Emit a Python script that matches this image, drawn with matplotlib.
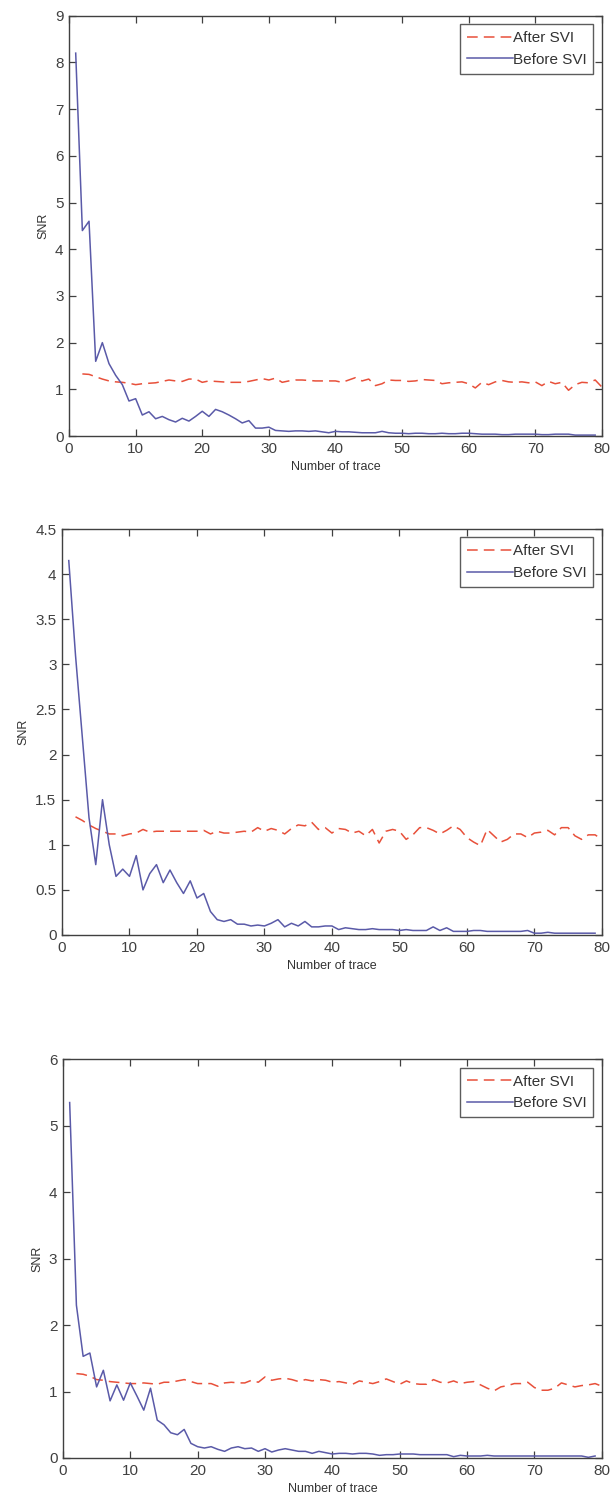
import numpy as np
import matplotlib
matplotlib.use('Agg')
import matplotlib.pyplot as plt

plt.rcParams['font.family'] = ['Liberation Sans', 'DejaVu Sans']

# panel 1
before1 = [8.2, 4.4, 4.6, 1.6, 2.0, 1.55, 1.3, 1.1, 0.75, 0.8,
           0.45, 0.52, 0.37, 0.42, 0.35, 0.3, 0.38, 0.32, 0.42, 0.53,
           0.42, 0.57, 0.52, 0.45, 0.37, 0.28, 0.33, 0.17, 0.17, 0.19,
           0.12, 0.11, 0.1, 0.11, 0.11, 0.1, 0.11, 0.09, 0.07, 0.1,
           0.09, 0.09, 0.08, 0.07, 0.07, 0.07, 0.1, 0.07, 0.06, 0.06,
           0.05, 0.06, 0.06, 0.05, 0.05, 0.06, 0.05, 0.05, 0.06, 0.06,
           0.05, 0.04, 0.04, 0.04, 0.03, 0.03, 0.04, 0.04, 0.04, 0.04,
           0.03, 0.03, 0.04, 0.04, 0.04, 0.02, 0.02, 0.02, 0.02]
after1 = [1.33, 1.32, 1.27, 1.22, 1.18, 1.16, 1.15, 1.13, 1.10, 1.12,
          1.13, 1.14, 1.17, 1.20, 1.18, 1.17, 1.22, 1.22, 1.15, 1.18,
          1.17, 1.16, 1.15, 1.15, 1.15, 1.17, 1.20, 1.23, 1.20, 1.24,
          1.15, 1.18, 1.20, 1.20, 1.19, 1.18, 1.18, 1.18, 1.18, 1.15,
          1.20, 1.25, 1.18, 1.22, 1.08, 1.12, 1.20, 1.19, 1.19, 1.17,
          1.18, 1.21, 1.20, 1.19, 1.12, 1.14, 1.15, 1.16, 1.12, 1.03,
          1.15, 1.10, 1.16, 1.19, 1.16, 1.15, 1.16, 1.14, 1.16, 1.08,
          1.17, 1.12, 1.15, 0.98, 1.10, 1.15, 1.14, 1.20, 1.05]

# panel 2
before2 = [4.15, 3.1, 2.2, 1.3, 0.78, 1.5, 1.0, 0.65, 0.73, 0.65,
           0.88, 0.5, 0.68, 0.78, 0.58, 0.72, 0.58, 0.46, 0.6, 0.41,
           0.46, 0.26, 0.17, 0.15, 0.17, 0.12, 0.12, 0.1, 0.11, 0.1,
           0.13, 0.17, 0.09, 0.13, 0.1, 0.15, 0.09, 0.09, 0.1, 0.1,
           0.06, 0.08, 0.07, 0.06, 0.06, 0.07, 0.06, 0.06, 0.06, 0.05,
           0.06, 0.05, 0.05, 0.05, 0.09, 0.05, 0.08, 0.04, 0.04, 0.04,
           0.05, 0.05, 0.04, 0.04, 0.04, 0.04, 0.04, 0.04, 0.05, 0.02,
           0.02, 0.03, 0.02, 0.02, 0.02, 0.02, 0.02, 0.02, 0.02]
after2 = [1.31, 1.27, 1.22, 1.18, 1.15, 1.12, 1.12, 1.10, 1.12, 1.13,
          1.17, 1.14, 1.15, 1.15, 1.15, 1.15, 1.15, 1.15, 1.15, 1.16,
          1.12, 1.15, 1.13, 1.13, 1.14, 1.15, 1.14, 1.19, 1.15, 1.18,
          1.16, 1.12, 1.18, 1.22, 1.21, 1.25, 1.17, 1.19, 1.13, 1.18,
          1.17, 1.13, 1.15, 1.10, 1.17, 1.02, 1.15, 1.17, 1.15, 1.06,
          1.11, 1.19, 1.19, 1.16, 1.12, 1.16, 1.21, 1.17, 1.08, 1.03,
          0.99, 1.17, 1.10, 1.03, 1.06, 1.12, 1.12, 1.08, 1.13, 1.14,
          1.16, 1.11, 1.19, 1.19, 1.10, 1.06, 1.11, 1.11, 1.06]

# panel 3
before3 = [5.35, 2.3, 1.53, 1.58, 1.07, 1.32, 0.86, 1.1, 0.87, 1.13,
           0.93, 0.72, 1.05, 0.57, 0.5, 0.38, 0.35, 0.43, 0.22, 0.17,
           0.15, 0.17, 0.13, 0.1, 0.15, 0.17, 0.14, 0.15, 0.1, 0.14,
           0.09, 0.12, 0.14, 0.12, 0.1, 0.1, 0.07, 0.1, 0.08, 0.06,
           0.07, 0.07, 0.06, 0.07, 0.07, 0.06, 0.04, 0.05, 0.05, 0.06,
           0.06, 0.06, 0.05, 0.05, 0.05, 0.05, 0.05, 0.02, 0.04, 0.03,
           0.03, 0.03, 0.04, 0.03, 0.03, 0.03, 0.03, 0.03, 0.03, 0.03,
           0.03, 0.03, 0.03, 0.03, 0.03, 0.03, 0.03, 0.01, 0.03]
after3 = [1.27, 1.26, 1.23, 1.18, 1.17, 1.15, 1.14, 1.13, 1.12, 1.12,
          1.13, 1.12, 1.11, 1.14, 1.14, 1.16, 1.18, 1.15, 1.12, 1.12,
          1.12, 1.08, 1.13, 1.14, 1.13, 1.13, 1.17, 1.14, 1.22, 1.17,
          1.19, 1.20, 1.18, 1.15, 1.18, 1.16, 1.18, 1.17, 1.14, 1.15,
          1.13, 1.11, 1.16, 1.14, 1.12, 1.15, 1.19, 1.15, 1.11, 1.16,
          1.12, 1.11, 1.11, 1.18, 1.14, 1.13, 1.16, 1.12, 1.14, 1.15,
          1.10, 1.05, 1.01, 1.07, 1.09, 1.12, 1.12, 1.14, 1.06, 1.02,
          1.02, 1.05, 1.13, 1.10, 1.07, 1.09, 1.10, 1.12, 1.08]

panels = [(before1, after1, 9, [0.113, 0.7097, 0.872, 0.2798]),
          (before2, after2, 4.5, [0.1015, 0.3775, 0.8835, 0.2703]),
          (before3, after3, 6, [0.103, 0.0293, 0.882, 0.2654])]

fig = plt.figure(figsize=(6.11, 15.02), dpi=100)

for before, after, ymax, rect in panels:
    ax = fig.add_axes(rect)
    xb = np.arange(1, len(before) + 1)
    xa = np.arange(2, len(after) + 2)
    ax.plot(xa, after, '--', color='#e8503a', lw=1.1, dashes=(7, 4), label='After SVI')
    ax.plot(xb, before, '-', color='#5a5aa8', lw=1.1, label='Before SVI')
    ax.set_xlim(0, 80)
    ax.set_ylim(0, ymax)
    ax.set_xticks(np.arange(0, 81, 10))
    if ymax == 4.5:
        ax.set_yticks(np.arange(0, 4.51, 0.5))
        ax.set_yticklabels(['0', '0.5', '1', '1.5', '2', '2.5', '3', '3.5', '4', '4.5'])
    else:
        ax.set_yticks(np.arange(0, ymax + 1, 1))
    ax.tick_params(direction='in', length=5, width=0.9, top=True, right=True,
                   labelsize=11, colors='#404040', pad=4)
    for s in ax.spines.values():
        s.set_color('#404040')
        s.set_linewidth(1.0)
    ax.set_xlabel('Number of trace', fontsize=9, color='#333333', labelpad=4)
    ax.set_ylabel('SNR', fontsize=9, color='#333333', labelpad=4)
    leg = ax.legend(loc='upper right', fontsize=11, frameon=True, fancybox=False,
                    handlelength=3.0, handletextpad=0.0, borderpad=0.45,
                    labelspacing=0.5, borderaxespad=0.55)
    leg.get_frame().set_edgecolor('#333333')
    leg.get_frame().set_linewidth(1.0)
    for t in leg.get_texts():
        t.set_color('#333333')

fig.savefig('out.png', dpi=100)
